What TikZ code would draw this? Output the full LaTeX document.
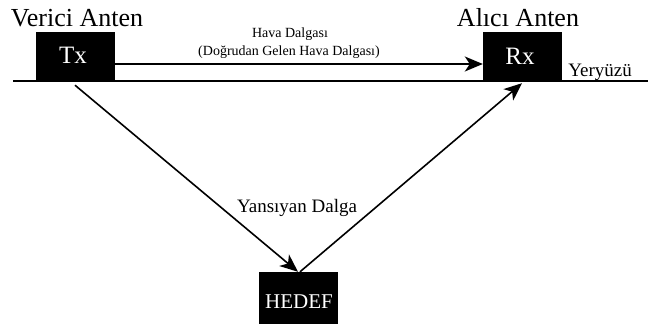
\documentclass[tikz,border=0pt]{standalone}
\usepackage{fontspec}
\setmainfont{Liberation Serif}
\usetikzlibrary{arrows.meta, positioning}

\begin{document}
\begin{tikzpicture}[x=1pt, y=-1pt,
    antbox/.style={rectangle, fill=black, draw=black, text=white,
                   minimum width=78pt, minimum height=48pt, inner sep=0pt},
    lbl/.style={anchor=base, inner sep=0pt},
    wave/.style={-{Stealth[length=18pt, width=15pt, inset=5pt]}, line width=1.6pt}
  ]
  \useasboundingbox (0,0) rectangle (648,324);

  % ground
  \coordinate (gl) at (13,81);
  \coordinate (gr) at (648,81);
  \draw[line width=1.8pt] (gl) -- (gr);

  \node[antbox] (tx) at (75,56) {};
  \node[antbox] (rx) at (522,56) {};
  \node[antbox, minimum height=51pt] (hd) at (298,297.5) {};

  \node[lbl, text=white, font=\fontsize{25}{25}\selectfont] (txt) at (73,63) {Tx};
  \node[lbl, text=white, font=\fontsize{25}{25}\selectfont] (rxt) at (520,64) {Rx};
  \node[lbl, text=white, font=\fontsize{21}{21}\selectfont] (hdt) at (299,308) {HEDEF};

  \node[lbl, font=\fontsize{26}{26}\selectfont] (vt) at (77,27) {Verici Anten};
  \node[lbl, font=\fontsize{26}{26}\selectfont] (at) at (518,27) {Alıcı Anten};
  \node[lbl, font=\fontsize{19}{19}\selectfont] (yz) at (600,76) {Yeryüzü};
  \node[lbl, font=\fontsize{14}{14}\selectfont] (hv1) at (290,37) {Hava Dalgası};
  \node[lbl, font=\fontsize{14}{14}\selectfont] (hv2) at (289,55) {(Doğrudan Gelen Hava Dalgası)};
  \node[lbl, font=\fontsize{19}{19}\selectfont] (ys) at (297,212) {Yansıyan Dalga};

  \draw[wave] ([yshift=-8pt]tx.east) -- ([yshift=-8pt]rx.west);
  \draw[wave] ([yshift=-5pt]tx.south) -- (hd.north);
  \draw[wave] ([xshift=2pt]hd.north) -- ([yshift=-3pt]rx.south);
\end{tikzpicture}
\end{document}
